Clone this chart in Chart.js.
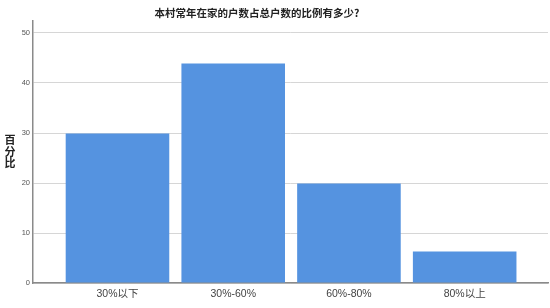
<!DOCTYPE html>
<html>
<head>
<meta charset="utf-8">
<script src="https://cdn.jsdelivr.net/npm/chart.js@4/dist/chart.umd.min.js"></script>
<style>
  html, body { margin: 0; padding: 0; background: #fff; }
  #wrap { width: 550px; height: 308px; position: relative; }
</style>
</head>
<body>
<div id="wrap"><canvas id="c"></canvas></div>
<script>
'use strict';

const categories = ['30%以下', '30%-60%', '60%-80%', '80%以上'];
const percents = [29.9, 43.9, 19.9, 6.3];
const yTicks = [0, 10, 20, 30, 40, 50];
const chartTitle = '本村常年在家的户数占总户数的比例有多少?';
const yTitle = ['百', '分', '比'];

const cjk = "'Liberation Sans', 'Noto Sans CJK SC', sans-serif";

// title sits left of centre, y title is one char per line
const textPlugin = {
  id: 'texts',
  afterDraw(chart) {
    const ctx = chart.ctx;
    ctx.save();
    ctx.fillStyle = '#222';
    ctx.textAlign = 'center';
    ctx.textBaseline = 'middle';
    ctx.font = "bold 10.5px 'Noto Sans CJK SC', sans-serif";
    ctx.fillText(chartTitle, 257, 13);
    ctx.font = "bold 11px 'Noto Sans CJK SC', sans-serif";
    yTitle.forEach((ch, i) => ctx.fillText(ch, 10, 140 + i * 11.5));
    ctx.restore();
  },
};

new Chart(document.getElementById('c'), {
  type: 'bar',
  data: {
    datasets: [{
      data: percents.map((v, i) => ({ x: i, y: v })),
      backgroundColor: '#5593e0',
      borderWidth: 0,
      barPercentage: 0.895,
      categoryPercentage: 1.0,
    }],
  },
  options: {
    responsive: true,
    maintainAspectRatio: false,
    animation: false,
    layout: { padding: { left: 0, right: 2, top: 21, bottom: 0 } },
    plugins: {
      legend: { display: false },
      tooltip: { enabled: false },
      title: { display: false },
    },
    scales: {
      x: {
        type: 'linear',
        offset: false,
        min: -0.73,
        max: 3.72,
        afterBuildTicks: (s) => { s.ticks = categories.map((_, i) => ({ value: i })); },
        afterFit: (s) => { s.height = 25; },
        grid: { display: false, drawTicks: false, offset: false },
        border: { color: '#8a8a8a', width: 1.5 },
        ticks: {
          color: '#444',
          padding: 5,
          font: { family: cjk, size: 10.5 },
          maxRotation: 0,
          callback: (v) => categories[v],
        },
      },
      y: {
        min: 0,
        max: 52.4,
        afterBuildTicks: (s) => { s.ticks = yTicks.map((v) => ({ value: v })); },
        afterFit: (s) => { s.width = 33; },
        grid: { color: '#d6d6d6', lineWidth: 1, drawTicks: false },
        border: { color: '#8a8a8a', width: 1.5 },
        ticks: {
          color: '#555',
          padding: 3,
          font: { family: "'Liberation Sans', sans-serif", size: 7.5 },
        },
      },
    },
  },
  plugins: [textPlugin],
});
</script>
</body>
</html>
